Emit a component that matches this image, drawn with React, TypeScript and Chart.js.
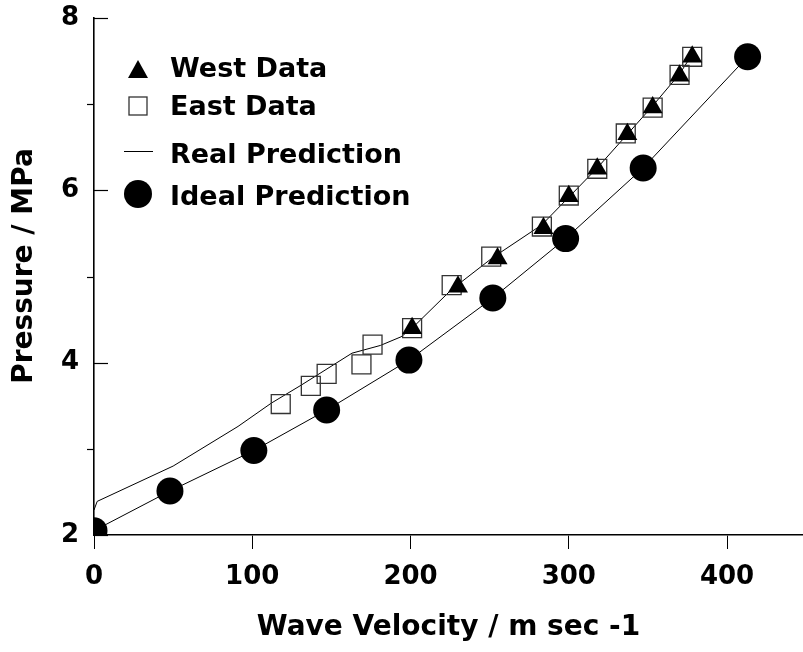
import React, { useEffect, useRef } from 'react';
import { Chart, registerables } from 'chart.js';

Chart.register(...registerables);

// ---- data ----
const westVelocity = [201, 230, 255, 284, 300, 318, 337, 353, 370, 378];
const westPressure = [4.40, 4.88, 5.21, 5.56, 5.93, 6.25, 6.65, 6.96, 7.33, 7.55];

const eastVelocity = [118, 137, 147, 169, 176, 201, 226, 251, 283, 300, 318, 336, 353, 370, 378];
const eastPressure = [3.52, 3.73, 3.87, 3.98, 4.21, 4.40, 4.90, 5.23, 5.58, 5.94, 6.25, 6.66, 6.96, 7.34, 7.55];

const realVelocity = [0, 2, 50, 91, 112, 131, 163, 181, 194, 201, 226, 252, 283, 300, 318, 337, 353, 370, 377];
const realPressure = [2.29, 2.39, 2.80, 3.26, 3.53, 3.74, 4.11, 4.20, 4.30, 4.40, 4.85, 5.22, 5.60, 5.92, 6.26, 6.65, 6.98, 7.35, 7.55];

const idealVelocity = [0, 48, 101, 147, 199, 252, 298, 347, 413];
const idealPressure = [2.05, 2.51, 2.98, 3.45, 4.03, 4.75, 5.44, 6.26, 7.55];

const xTickValues = [0, 100, 200, 300, 400];
const yTickValues = [2, 3, 4, 5, 6, 7, 8];
const yLabelledTicks = [2, 4, 6, 8];

const seriesNames = ['West Data', 'East Data', 'Real Prediction', 'Ideal Prediction'];
const xTitle = 'Wave Velocity / m sec -1';
const yTitle = 'Pressure / MPa';

const FONT = '"DejaVu Sans", sans-serif';

const toPoints = (xs: number[], ys: number[]) => xs.map((x, i) => ({ x, y: ys[i] }));

const decorPlugin = {
  id: 'decor',
  afterDraw(chart: any) {
    const ctx = chart.ctx as CanvasRenderingContext2D;
    const yScale = chart.scales.y;
    const area = chart.chartArea;
    const ax = area.left;
    ctx.save();
    // y tick marks: labelled ones inside, unlabelled ones outside
    ctx.strokeStyle = '#000';
    ctx.lineWidth = 1.2;
    yTickValues.forEach((v) => {
      const py = Math.round(yScale.getPixelForValue(v)) + 0.5;
      ctx.beginPath();
      if (yLabelledTicks.includes(v)) {
        ctx.moveTo(ax, py);
        ctx.lineTo(ax + 14, py);
      } else {
        ctx.moveTo(ax - 7, py);
        ctx.lineTo(ax, py);
      }
      ctx.stroke();
    });

    // y title
    ctx.fillStyle = '#000';
    ctx.font = `bold 28px ${FONT}`;
    ctx.textAlign = 'center';
    ctx.textBaseline = 'middle';
    ctx.save();
    ctx.translate(25, 266);
    ctx.rotate(-Math.PI / 2);
    ctx.fillText(yTitle, 0, 0);
    ctx.restore();

    // legend
    const mx = ax + 44;
    const tx = ax + 76;
    const markerY = [70, 106, 151, 194];
    const textY = [70, 108, 156, 198];
    // triangle
    ctx.fillStyle = '#000';
    ctx.beginPath();
    ctx.moveTo(mx, markerY[0] - 10);
    ctx.lineTo(mx + 10, markerY[0] + 8);
    ctx.lineTo(mx - 10, markerY[0] + 8);
    ctx.closePath();
    ctx.fill();
    // square
    ctx.strokeStyle = '#333';
    ctx.lineWidth = 1.3;
    ctx.strokeRect(mx - 9, markerY[1] - 9, 18, 18);
    // line
    ctx.strokeStyle = '#000';
    ctx.lineWidth = 1;
    ctx.beginPath();
    ctx.moveTo(mx - 14, markerY[2] + 0.5);
    ctx.lineTo(mx + 15, markerY[2] + 0.5);
    ctx.stroke();
    // circle
    ctx.beginPath();
    ctx.arc(mx, markerY[3], 14, 0, Math.PI * 2);
    ctx.fill();

    ctx.font = `bold 27px ${FONT}`;
    ctx.textAlign = 'left';
    ctx.textBaseline = 'middle';
    seriesNames.forEach((name, i) => ctx.fillText(name, tx, textY[i]));
    ctx.restore();
  },
};

export default function App() {
  const canvasRef = useRef<HTMLCanvasElement | null>(null);

  useEffect(() => {
    document.body.style.margin = '0';
    document.body.style.overflow = 'hidden';
    const canvas = canvasRef.current;
    if (!canvas) return;
    const chart = new Chart(canvas, {
      type: 'scatter',
      data: {
        datasets: [
          {
            label: seriesNames[0],
            data: toPoints(westVelocity, westPressure),
            pointStyle: 'triangle',
            pointRadius: 11.5,
            backgroundColor: '#000',
            borderColor: '#000',
            borderWidth: 0,
            showLine: false,
            clip: 0,
          },
          {
            label: seriesNames[1],
            data: toPoints(eastVelocity, eastPressure),
            pointStyle: 'rect',
            pointRadius: 13.4,
            backgroundColor: 'rgba(0,0,0,0)',
            borderColor: '#333',
            pointBorderWidth: 1.3,
            borderWidth: 1.3,
            showLine: false,
            clip: 0,
          },
          {
            label: seriesNames[2],
            data: toPoints(realVelocity, realPressure),
            showLine: true,
            pointRadius: 0,
            borderColor: '#000',
            borderWidth: 1,
            tension: 0,
            clip: 0,
          },
          {
            label: seriesNames[3],
            data: toPoints(idealVelocity, idealPressure),
            showLine: true,
            pointStyle: 'circle',
            pointRadius: 13.5,
            pointBackgroundColor: '#000',
            pointBorderWidth: 0,
            borderColor: '#000',
            borderWidth: 1,
            tension: 0,
            clip: 0,
          },
        ],
      },
      options: {
        animation: false,
        responsive: true,
        maintainAspectRatio: false,
        layout: { autoPadding: false, padding: { top: 18, right: 0, left: 0, bottom: 0 } },
        plugins: {
          legend: { display: false },
          tooltip: { enabled: false },
        },
        scales: {
          x: {
            type: 'linear',
            min: 0,
            max: 448,
            afterBuildTicks: (scale: any) => {
              scale.ticks = xTickValues.map((v) => ({ value: v }));
            },
            afterFit: (scale: any) => {
              scale.height = 117;
              scale.paddingLeft = 0;
              scale.paddingRight = 0;
            },
            grid: {
              display: true,
              drawOnChartArea: false,
              drawTicks: true,
              tickLength: 14,
              color: '#000',
              lineWidth: 1,
            },
            border: { display: true, color: '#000', width: 1.6 },
            ticks: {
              color: '#000',
              padding: 13,
              maxRotation: 0,
              font: { family: FONT, size: 26, weight: 'bold' },
            },
            title: {
              display: true,
              text: xTitle,
              color: '#000',
              padding: { top: 0, bottom: 7 },
              font: { family: FONT, size: 28, weight: 'bold' },
            },
          },
          y: {
            type: 'linear',
            min: 2,
            max: 8,
            afterBuildTicks: (scale: any) => {
              scale.ticks = yTickValues.map((v) => ({ value: v }));
            },
            afterFit: (scale: any) => {
              scale.width = 94;
              scale.paddingTop = 0;
              scale.paddingBottom = 0;
            },
            grid: { display: false, drawTicks: false },
            border: { display: true, color: '#000', width: 1.6 },
            ticks: {
              color: '#000',
              padding: 15,
              font: { family: FONT, size: 26, weight: 'bold' },
              callback: (v: any) => (yLabelledTicks.includes(Number(v)) ? String(v) : ''),
            },
          },
        },
      },
      plugins: [decorPlugin],
    });
    return () => chart.destroy();
  }, []);

  return (
    <div style={{ position: 'fixed', left: 0, top: 0, width: 803, height: 652, background: '#fff', overflow: 'hidden' }}>
      <canvas ref={canvasRef} />
    </div>
  );
}
